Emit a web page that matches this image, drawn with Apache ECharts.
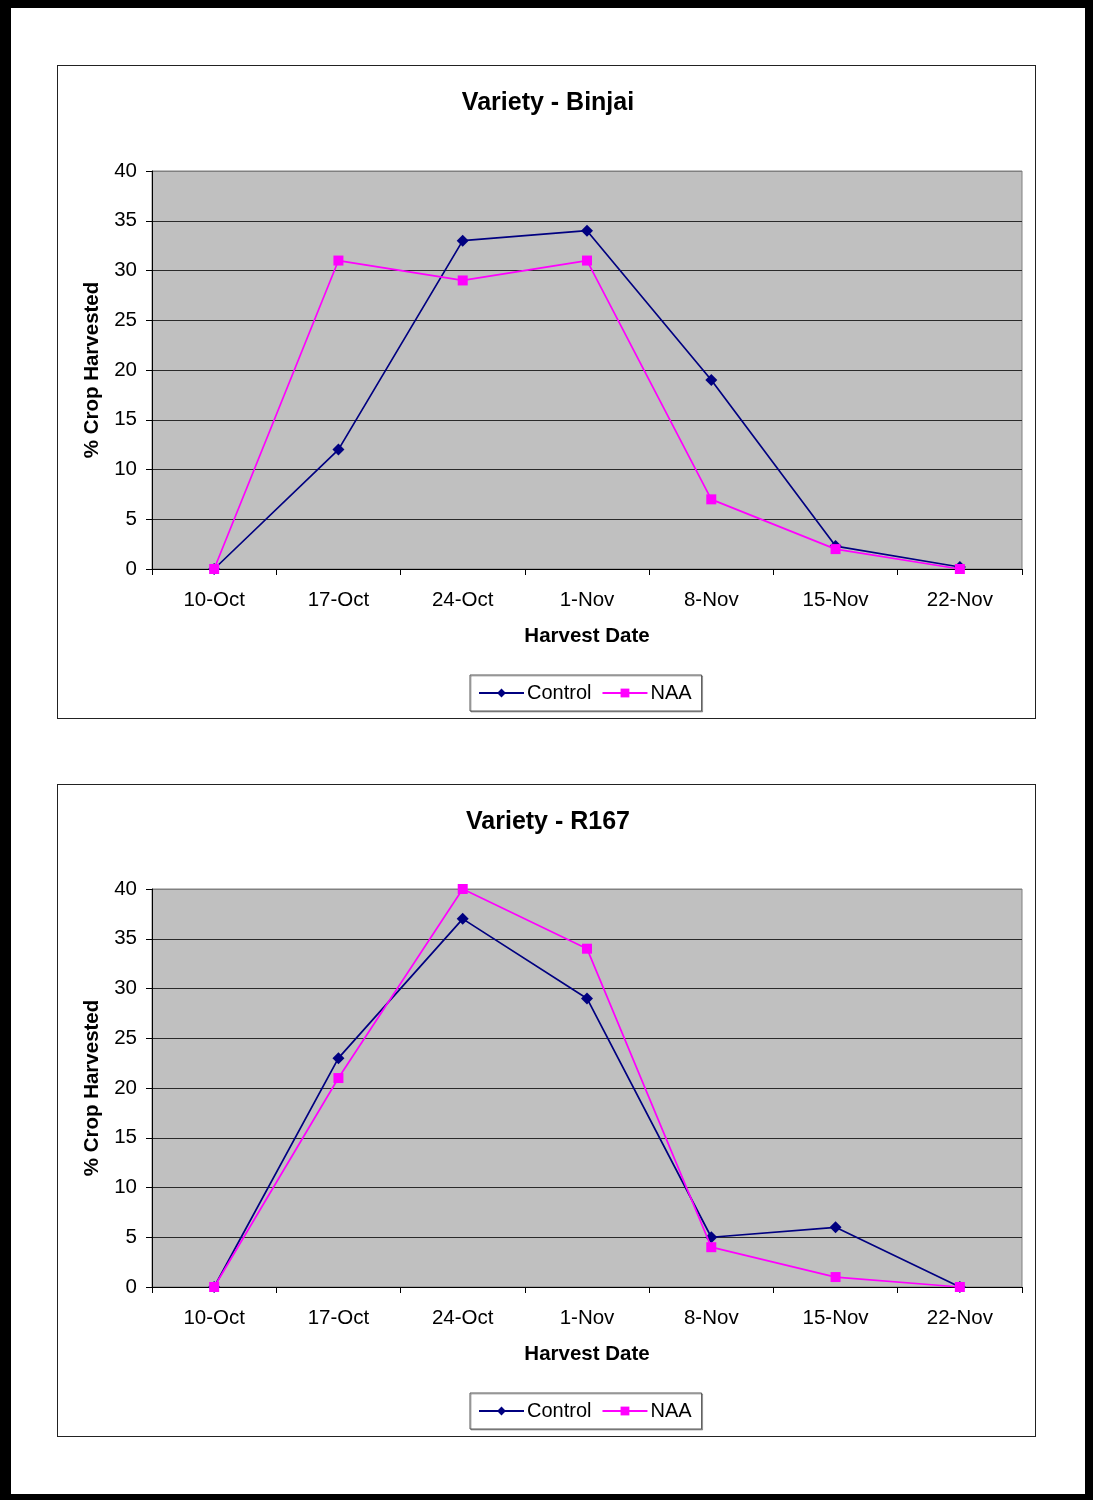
<!DOCTYPE html>
<html>
<head>
<meta charset="utf-8">
<script src="https://cdn.jsdelivr.net/npm/echarts@6/dist/echarts.min.js"></script>
<style>
  html, body { margin: 0; padding: 0; background: #000; }
  #page { position: relative; width: 1093px; height: 1500px; background: #000; overflow: hidden; }
  #sheet { position: absolute; left: 11px; top: 8px; width: 1074px; height: 1486px; background: #fff; }
  .box { position: absolute; left: 57px; width: 979px; border: 1px solid #222; background: #fff; box-sizing: border-box; }
  #box1 { top: 65px; height: 654px; }
  #box2 { top: 784px; height: 653px; }
  #chart { position: absolute; left: 0; top: 0; width: 1093px; height: 1500px; }
</style>
</head>
<body>
<div id="page">
  <div id="sheet"></div>
  <div class="box" id="box1"></div>
  <div class="box" id="box2"></div>
  <div id="chart"></div>
</div>
<script>
// Harvest dates (x categories)
var harvestDates = ['10-Oct', '17-Oct', '24-Oct', '1-Nov', '8-Nov', '15-Nov', '22-Nov'];

// % crop harvested, variety Binjai
var binjaiControl = [0, 12, 33, 34, 19, 2.3, 0.2];
var binjaiNAA = [0, 31, 29, 31, 7, 2, 0];

// % crop harvested, variety R167
var r167Control = [0, 23, 37, 29, 5, 6, 0];
var r167NAA = [0, 21, 40, 34, 4, 1, 0];

var chartTitles = ['Variety - Binjai', 'Variety - R167'];
var seriesNames = ['Control', 'NAA'];

var FONT = '"Liberation Sans", Arial, sans-serif';
var NAVY = '#000080';
var MAGENTA = '#FF00FF';

var gridTops = [171, 889];
var legendTops = [675, 1393];
var titleTops = [86, 805];

function yAxis(gi) {
  return {
    type: 'value', gridIndex: gi, min: 0, max: 40, interval: 5,
    name: '% Crop Harvested', nameLocation: 'middle', nameGap: 49,
    nameTextStyle: { fontFamily: FONT, fontSize: 20.5, fontWeight: 'bold', color: '#000' },
    axisLine: { show: true, lineStyle: { color: '#000', width: 1 } },
    axisTick: { show: true, length: 6, lineStyle: { color: '#000' } },
    axisLabel: { fontFamily: FONT, fontSize: 20.5, color: '#000', margin: 15 },
    splitLine: { show: true, lineStyle: { color: ['#000', '#2a2a2a', '#2a2a2a', '#2a2a2a', '#2a2a2a', '#2a2a2a', '#2a2a2a', '#2a2a2a', '#808080'], width: 1.2 } }
  };
}

function xAxis(gi) {
  return {
    type: 'category', gridIndex: gi, data: harvestDates, boundaryGap: true,
    name: 'Harvest Date', nameLocation: 'middle', nameGap: 57,
    nameTextStyle: { fontFamily: FONT, fontSize: 20.5, fontWeight: 'bold', color: '#000' },
    axisLine: { show: true, lineStyle: { color: '#000', width: 1 } },
    axisTick: { show: true, length: 6, interval: 0, alignWithLabel: false, lineStyle: { color: '#000' } },
    axisLabel: { fontFamily: FONT, fontSize: 20.5, color: '#000', margin: 21, interval: 0 },
    splitLine: { show: false }
  };
}

function lineSeries(name, data, gi) {
  var isControl = name === 'Control';
  return {
    name: name, type: 'line', xAxisIndex: gi, yAxisIndex: gi, data: data,
    symbol: isControl ? 'diamond' : 'rect',
    symbolSize: isControl ? 12 : 10,
    showAllSymbol: true,
    itemStyle: { color: isControl ? NAVY : MAGENTA },
    lineStyle: { color: isControl ? NAVY : MAGENTA, width: 1.7 },
    z: isControl ? 2 : 3,
    animation: false
  };
}

var option = {
  animation: false,
  title: chartTitles.map(function (t, i) {
    return {
      text: t, left: 543, top: titleTops[i], textAlign: 'center',
      textStyle: { fontFamily: FONT, fontSize: 25, fontWeight: 'bold', color: '#000' }
    };
  }),
  legend: legendTops.map(function (top) {
    return {
      data: seriesNames, left: 470, top: top,
      orient: 'horizontal', itemWidth: 45, itemHeight: 11, itemGap: 10,
      padding: [8, 10, 8, 8],
      borderColor: '#555', borderWidth: 1, backgroundColor: '#fff',
      shadowColor: 'rgba(0,0,0,0.3)', shadowOffsetX: 1, shadowOffsetY: 1, shadowBlur: 0,
      textStyle: { fontFamily: FONT, fontSize: 20, color: '#000', padding: [0, 0, 0, -2] }
    };
  }),
  grid: gridTops.map(function (top) {
    return {
      left: 152, width: 870, top: top, height: 398,
      show: true, backgroundColor: '#C0C0C0', borderColor: '#808080', borderWidth: 1
    };
  }),
  xAxis: [xAxis(0), xAxis(1)],
  yAxis: [yAxis(0), yAxis(1)],
  series: [
    lineSeries('Control', binjaiControl, 0),
    lineSeries('NAA', binjaiNAA, 0),
    lineSeries('Control', r167Control, 1),
    lineSeries('NAA', r167NAA, 1)
  ]
};

var chart = echarts.init(document.getElementById('chart'), null, { renderer: 'canvas' });
chart.setOption(option);
</script>
</body>
</html>
